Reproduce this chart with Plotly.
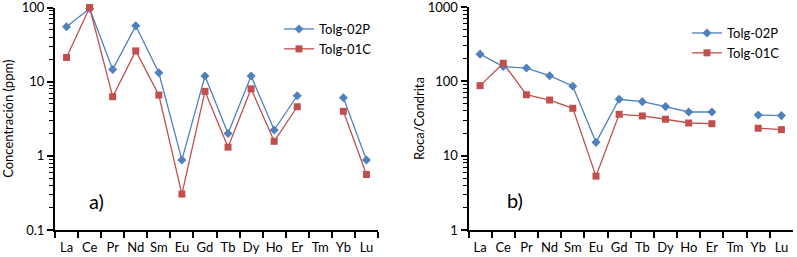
import plotly.graph_objects as go

elements = ["La", "Ce", "Pr", "Nd", "Sm", "Eu", "Gd", "Tb", "Dy", "Ho", "Er", "Tm", "Yb", "Lu"]

# Panel a) concentrations (ppm)
tolg02p_ppm = [55, 97, 14.6, 56.6, 13.2, 0.88, 11.9, 2.0, 11.9, 2.23, 6.46, None, 6.07, 0.88]
tolg01c_ppm = [21.2, 100, 6.27, 26, 6.6, 0.305, 7.4, 1.31, 8.0, 1.57, 4.59, None, 3.98, 0.56]

# Panel b) chondrite-normalised
tolg02p_norm = [232, 158, 151, 119, 86, 15.1, 57.4, 53.3, 45.7, 38.7, 38.7, None, 35.3, 34.6]
tolg01c_norm = [87.5, 175, 66, 56, 43.4, 5.3, 36, 34.2, 30.9, 27.5, 26.9, None, 23.4, 22.4]

name_blue = "Tolg-02P"
name_red = "Tolg-01C"
blue = "#4F81BD"
red = "#C0504D"
FONT = "Lato"
TXT = "#000000"

fig = go.Figure()

def add(x, y, name, color, symbol, size, xa, ya, legend):
    fig.add_trace(go.Scatter(
        x=x, y=y, name=name, mode="lines+markers",
        line=dict(color=color, width=1.3),
        marker=dict(symbol=symbol, size=size, color=color),
        connectgaps=False, xaxis=xa, yaxis=ya, legend=legend, cliponaxis=False,
    ))

add(elements, tolg02p_ppm, name_blue, blue, "diamond", 7, "x", "y", "legend")
add(elements, tolg01c_ppm, name_red, red, "square", 7, "x", "y", "legend")
add(elements, tolg02p_norm, name_blue, blue, "diamond", 7, "x2", "y2", "legend2")
add(elements, tolg01c_norm, name_red, red, "square", 7, "x2", "y2", "legend2")

W, H = 797, 257
n = len(elements)
xcommon = dict(type="category", categoryorder="array", categoryarray=elements,
               range=[-0.5, n - 0.5], tickson="boundaries", ticks="outside", ticklen=6,
               tickwidth=1.5, tickcolor="black", showline=True, linecolor="black",
               linewidth=2, showgrid=False, zeroline=False, mirror=False, tickangle=0,
               automargin=False, ticklabelstandoff=4,
               tickfont=dict(family=FONT, size=13, color=TXT))
ycommon = dict(type="log", tickmode="linear", tick0=0, dtick=1, exponentformat="none",
               ticks="outside", ticklen=6, tickwidth=1.5, tickcolor="black",
               showline=True, linecolor="black", linewidth=2, showgrid=False,
               zeroline=False, automargin=False, ticklabeloverflow="allow",
               tickfont=dict(family=FONT, size=13, color=TXT),
               minor=dict(ticks="outside", ticklen=4, dtick="D1",
                          tickcolor="black", tickwidth=1, showgrid=False))

fig.update_layout(
    width=W, height=H,
    margin=dict(l=0, r=0, t=0, b=0),
    paper_bgcolor="white", plot_bgcolor="white",
    font=dict(family=FONT, size=13, color=TXT),
    xaxis=dict(domain=[55 / W, 378 / W], anchor="y", **xcommon),
    xaxis2=dict(domain=[468.5 / W, 793 / W], anchor="y2", **xcommon),
    yaxis=dict(domain=[1 - 230 / H, 1 - 7.5 / H], anchor="x", range=[-1, 2],
               title=dict(text="Concentración (ppm)", font=dict(family=FONT, size=13, color=TXT), standoff=8),
               **ycommon),
    yaxis2=dict(domain=[1 - 230 / H, 1 - 7 / H], anchor="x2", range=[0, 3],
                title=dict(text="Roca/Condrita", font=dict(family=FONT, size=13, color=TXT), standoff=0),
                **ycommon),
    legend=dict(x=279 / W, y=1 - 14 / H, xanchor="left", yanchor="top",
                bgcolor="rgba(0,0,0,0)", font=dict(family=FONT, size=13, color=TXT),
                tracegroupgap=0, itemwidth=30),
    legend2=dict(x=687 / W, y=1 - 18 / H, xanchor="left", yanchor="top",
                 bgcolor="rgba(0,0,0,0)", font=dict(family=FONT, size=13, color=TXT),
                 tracegroupgap=0, itemwidth=30),
    annotations=[
        dict(text="a)", x=96 / W, y=1 - 201 / H, xref="paper", yref="paper",
             xanchor="center", yanchor="middle",
             showarrow=False, font=dict(family=FONT, size=20, color="black")),
        dict(text="b)", x=515 / W, y=1 - 200 / H, xref="paper", yref="paper",
             xanchor="center", yanchor="middle",
             showarrow=False, font=dict(family=FONT, size=20, color="black")),
    ],
    showlegend=True,
)

fig.write_html("out.html", config={"displayModeBar": False},
               post_script="document.body.style.margin='0';document.body.style.overflow='hidden';")
